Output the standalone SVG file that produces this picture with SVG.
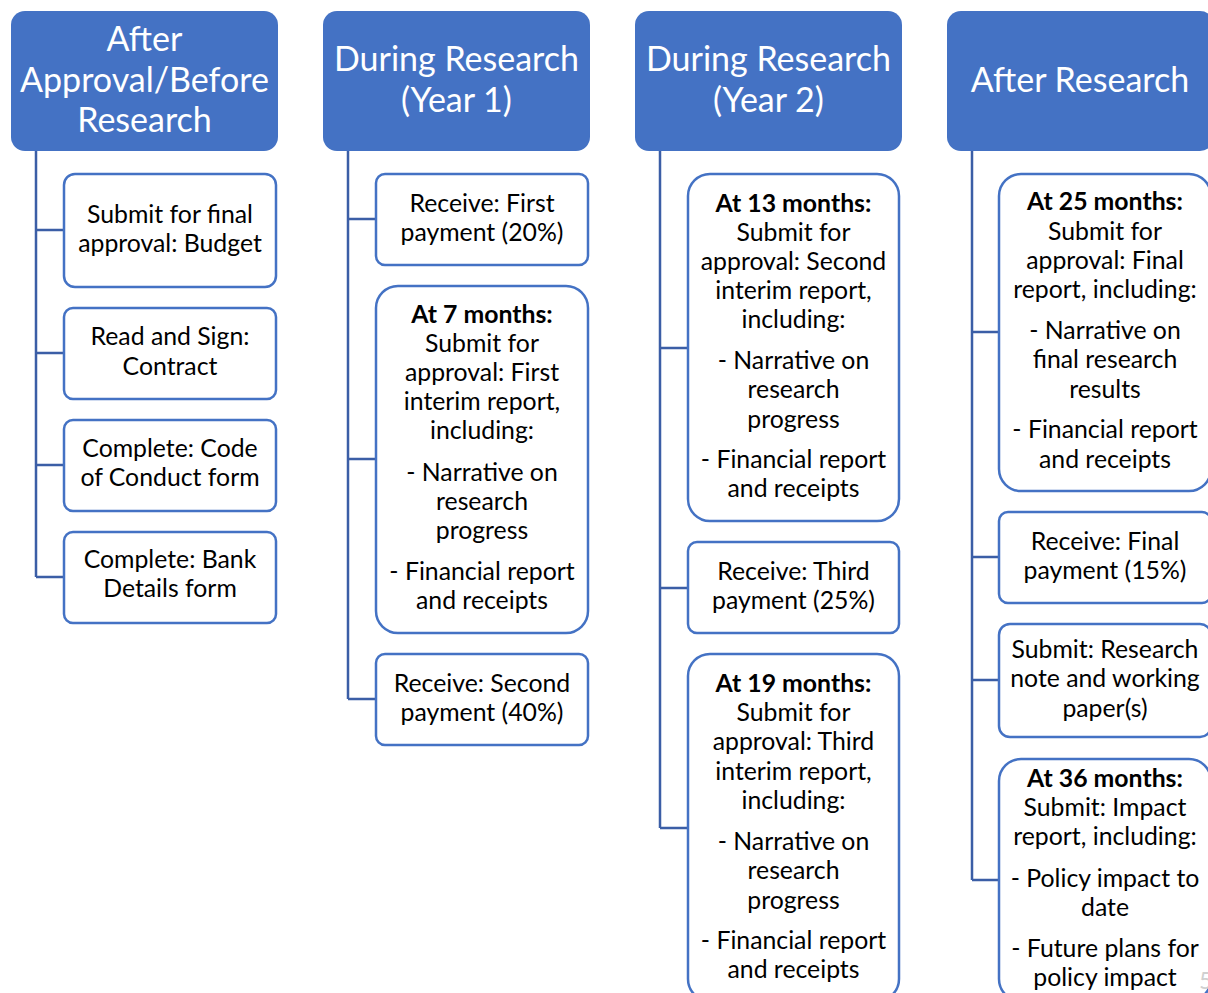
<svg xmlns="http://www.w3.org/2000/svg" width="1208" height="993" viewBox="0 0 1208 993">
<style>
.hdr{fill:#4472C4}
.hdr-t{fill:#ffffff;font-family:Lato,"Liberation Sans",sans-serif;font-size:34px;text-anchor:middle}
.box{fill:#ffffff;stroke:#4472C4;stroke-width:2.5}
.t{fill:#000000;font-family:Lato,"Liberation Sans",sans-serif;font-size:24.8px;text-anchor:middle}
.b{font-weight:bold}
.con{fill:none;stroke:#3B5EA6;stroke-width:2.5}
</style>
<rect width="1208" height="993" fill="#ffffff"/>
<g id="connectors">
<path class="con" d="M36 151V577M36 230H64M36 353H64M36 465H64M36 577H64"/>
<path class="con" d="M348 151V699M348 219H376M348 459H376M348 699H376"/>
<path class="con" d="M660 151V828M660 348H688M660 588H688M660 828H688"/>
<path class="con" d="M972 151V880M972 332H999M972 557H999M972 680H999M972 880H999"/>
</g>
<g id="h1"><rect class="hdr" x="11" y="11" width="267" height="140" rx="14"/>
<text class="hdr-t" x="144.5" y="51">After</text><text class="hdr-t" x="144.5" y="92">Approval/Before</text><text class="hdr-t" x="144.5" y="132">Research</text></g>
<g id="h2"><rect class="hdr" x="323" y="11" width="267" height="140" rx="14"/>
<text class="hdr-t" x="456.5" y="71">During Research</text><text class="hdr-t" x="456.5" y="112">(Year 1)</text></g>
<g id="h3"><rect class="hdr" x="635" y="11" width="267" height="140" rx="14"/>
<text class="hdr-t" x="768.5" y="71">During Research</text><text class="hdr-t" x="768.5" y="112">(Year 2)</text></g>
<g id="h4"><rect class="hdr" x="947" y="11" width="267" height="140" rx="14"/>
<text class="hdr-t" x="1080" y="92">After Research</text></g>

<g id="c1b1"><rect class="box" x="64" y="174" width="212" height="113" rx="11"/>
<text class="t" x="170" y="223">Submit for final</text><text class="t" x="170" y="252">approval: Budget</text></g>
<g id="c1b2"><rect class="box" x="64" y="308" width="212" height="91" rx="9"/>
<text class="t" x="170" y="345">Read and Sign:</text><text class="t" x="170" y="375">Contract</text></g>
<g id="c1b3"><rect class="box" x="64" y="420" width="212" height="91" rx="9"/>
<text class="t" x="170" y="457">Complete: Code</text><text class="t" x="170" y="486">of Conduct form</text></g>
<g id="c1b4"><rect class="box" x="64" y="532" width="212" height="91" rx="9"/>
<text class="t" x="170" y="568">Complete: Bank</text><text class="t" x="170" y="597">Details form</text></g>

<g id="c2b1"><rect class="box" x="376" y="174" width="212" height="91" rx="9"/>
<text class="t" x="482" y="212">Receive: First</text><text class="t" x="482" y="241">payment (20%)</text></g>
<g id="c2b2"><rect class="box" x="376" y="286" width="212" height="347" rx="22"/>
<text class="t b" x="482" y="323">At 7 months:</text>
<text class="t" x="482" y="352">Submit for</text>
<text class="t" x="482" y="381">approval: First</text>
<text class="t" x="482" y="410">interim report,</text>
<text class="t" x="482" y="439">including:</text>
<text class="t" x="482" y="481">- Narrative on</text>
<text class="t" x="482" y="510">research</text>
<text class="t" x="482" y="539">progress</text>
<text class="t" x="482" y="580">- Financial report</text>
<text class="t" x="482" y="609">and receipts</text></g>
<g id="c2b3"><rect class="box" x="376" y="654" width="212" height="91" rx="9"/>
<text class="t" x="482" y="692">Receive: Second</text><text class="t" x="482" y="721">payment (40%)</text></g>

<g id="c3b1"><rect class="box" x="688" y="174" width="211" height="347" rx="22"/>
<text class="t b" x="793.5" y="212">At 13 months:</text>
<text class="t" x="793.5" y="241">Submit for</text>
<text class="t" x="793.5" y="270">approval: Second</text>
<text class="t" x="793.5" y="299">interim report,</text>
<text class="t" x="793.5" y="328">including:</text>
<text class="t" x="793.5" y="369">- Narrative on</text>
<text class="t" x="793.5" y="398">research</text>
<text class="t" x="793.5" y="428">progress</text>
<text class="t" x="793.5" y="468">- Financial report</text>
<text class="t" x="793.5" y="497">and receipts</text></g>
<g id="c3b2"><rect class="box" x="688" y="542" width="211" height="91" rx="9"/>
<text class="t" x="793.5" y="580">Receive: Third</text><text class="t" x="793.5" y="609">payment (25%)</text></g>
<g id="c3b3"><rect class="box" x="688" y="654" width="211" height="347" rx="22"/>
<text class="t b" x="793.5" y="692">At 19 months:</text>
<text class="t" x="793.5" y="721">Submit for</text>
<text class="t" x="793.5" y="750">approval: Third</text>
<text class="t" x="793.5" y="780">interim report,</text>
<text class="t" x="793.5" y="809">including:</text>
<text class="t" x="793.5" y="850">- Narrative on</text>
<text class="t" x="793.5" y="879">research</text>
<text class="t" x="793.5" y="909">progress</text>
<text class="t" x="793.5" y="949">- Financial report</text>
<text class="t" x="793.5" y="978">and receipts</text></g>

<g id="c4b1"><rect class="box" x="999" y="174" width="212" height="317" rx="22"/>
<text class="t b" x="1105" y="210">At 25 months:</text>
<text class="t" x="1105" y="240">Submit for</text>
<text class="t" x="1105" y="269">approval: Final</text>
<text class="t" x="1105" y="298">report, including:</text>
<text class="t" x="1105" y="339">- Narrative on</text>
<text class="t" x="1105" y="368">final research</text>
<text class="t" x="1105" y="398">results</text>
<text class="t" x="1105" y="438">- Financial report</text>
<text class="t" x="1105" y="468">and receipts</text></g>
<g id="c4b2"><rect class="box" x="999" y="512" width="212" height="91" rx="9"/>
<text class="t" x="1105" y="550">Receive: Final</text><text class="t" x="1105" y="579">payment (15%)</text></g>
<g id="c4b3"><rect class="box" x="999" y="624" width="212" height="113" rx="11"/>
<text class="t" x="1105" y="658">Submit: Research</text><text class="t" x="1105" y="687">note and working</text><text class="t" x="1105" y="717">paper(s)</text></g>
<g id="c4b4"><rect class="box" x="999" y="759" width="212" height="242" rx="22"/>
<text class="t b" x="1105" y="787">At 36 months:</text>
<text class="t" x="1105" y="816">Submit: Impact</text>
<text class="t" x="1105" y="845">report, including:</text>
<text class="t" x="1105" y="887">- Policy impact to</text>
<text class="t" x="1105" y="916">date</text>
<text class="t" x="1105" y="957">- Future plans for</text>
<text class="t" x="1105" y="986">policy impact</text></g>
<text x="1199" y="989" fill="#D0D0D0" font-family="Lato,'Liberation Sans',sans-serif" font-size="24">5</text>
</svg>
